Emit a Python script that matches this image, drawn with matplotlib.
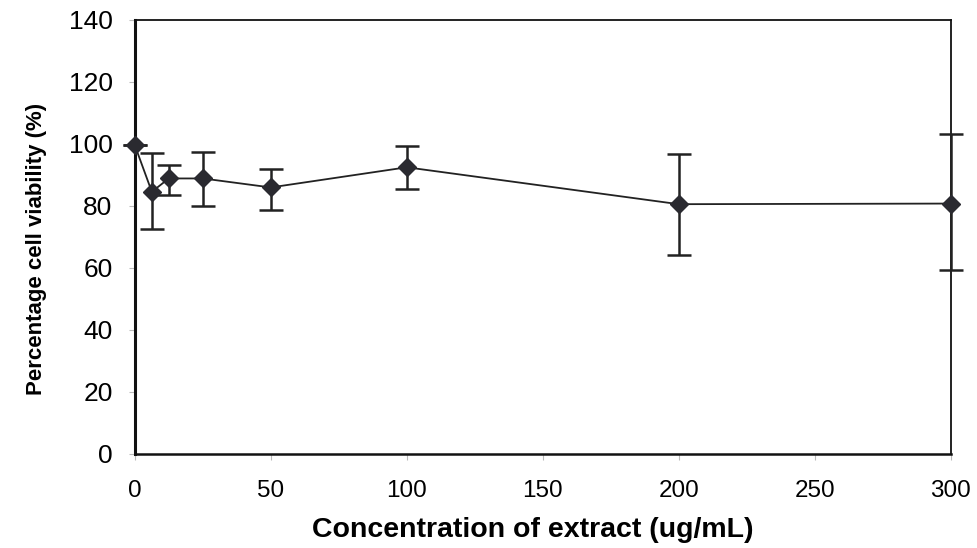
import numpy as np
import matplotlib
matplotlib.use("Agg")
import matplotlib.pyplot as plt

# concentration (ug/mL), viability (%) and error bar ends
conc = [0, 6.25, 12.5, 25, 50, 100, 200, 300]
viability = [99.5, 84.5, 88.8, 88.8, 85.9, 92.4, 80.5, 80.7]
err_top = [99.5, 96.9, 93.0, 97.2, 92.0, 99.2, 96.6, 103.0]
err_bottom = [99.5, 72.6, 83.6, 80.0, 78.7, 85.5, 64.2, 59.3]

x_ticks = [0, 50, 100, 150, 200, 250, 300]
y_ticks = [0, 20, 40, 60, 80, 100, 120, 140]

plt.rcParams['font.family'] = ['Liberation Sans', 'DejaVu Sans']

v = np.array(viability)
yerr = [v - np.array(err_bottom), np.array(err_top) - v]

fig = plt.figure(figsize=(9.77, 5.48), dpi=100)
ax = fig.add_axes([0.138, 0.172, 0.835, 0.792])

ax.errorbar(conc, viability, yerr=yerr, color="#222222", linewidth=1.3,
            elinewidth=1.8, capsize=8.5, capthick=1.8, marker="D",
            markersize=9, markerfacecolor="#2a2a30", markeredgecolor="#2a2a30",
            clip_on=False, zorder=3)

ax.set_xlim(0, 300)
ax.set_ylim(0, 140)
ax.set_xticks(x_ticks)
ax.set_yticks(y_ticks)
ax.tick_params(direction="out", length=4, color="#bbbbbb")
ax.tick_params(axis="y", labelsize=19, pad=12)
ax.tick_params(axis="x", labelsize=17.5, pad=15)

for side, sp in ax.spines.items():
    sp.set_color("#111111")
    sp.set_linewidth(1.3)
ax.spines['left'].set_linewidth(2.2)
ax.spines['bottom'].set_linewidth(1.8)

ax.set_xlabel("Concentration of extract (ug/mL)", fontsize=20.5, fontweight="bold")
ax.xaxis.set_label_coords(0.488, -0.145)
ax.set_ylabel("Percentage cell viability (%)", fontsize=16, fontweight="bold")
ax.yaxis.set_label_coords(-0.108, 0.472)

fig.savefig("out.png", dpi=100)
